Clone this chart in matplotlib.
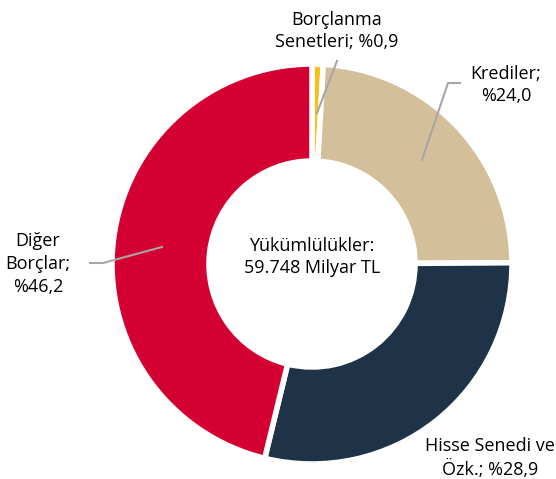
import matplotlib.pyplot as plt

plt.rcParams['font.family'] = ['Open Sans', 'DejaVu Sans']

# data
categories = ['Borçlanma\nSenetleri', 'Krediler', 'Hisse Senedi ve\nÖzk.', 'Diğer\nBorçlar']
shares = [0.9, 24.0, 28.9, 46.2]
share_labels = ['Borçlanma\nSenetleri; %0,9', 'Krediler;\n%24,0', 'Hisse Senedi ve\nÖzk.; %28,9', 'Diğer\nBorçlar;\n%46,2']
colors = ['#F5C116', '#D4BF9B', '#1E3248', '#D50032']
center_text = 'Yükümlülükler:\n59.748 Milyar TL'

W, H = 556, 479
fig = plt.figure(figsize=(W / 100, H / 100), dpi=100)
ax = fig.add_axes([0, 0, 1, 1])

cx, cy, r = 312, 264, 200
# y axis is flipped (pixel coords), so -90 points up and counterclock runs clockwise on screen
wedges, _ = ax.pie(shares, colors=colors, startangle=-90, counterclock=True,
                   center=(cx, cy), radius=r, frame=True,
                   wedgeprops=dict(width=r * 0.485, edgecolor='white', linewidth=4))
ax.set_xlim(0, W)
ax.set_ylim(H, 0)
ax.set_aspect('equal')
ax.axis('off')

fs = 13
ax.text(cx, cy - 7, center_text, ha='center', va='center', fontsize=fs, linespacing=1.35)

# leader lines
line_kw = dict(color='#A6A6A6', lw=1.5)
ax.plot([337, 317], [61, 113], **line_kw)
ax.plot([460, 448, 422], [83, 83, 160], **line_kw)
ax.plot([90, 103, 162], [263, 263, 247], **line_kw)

ax.text(337, 31, share_labels[0], ha='center', va='center', fontsize=fs, linespacing=1.35)
ax.text(506, 85, share_labels[1], ha='center', va='center', fontsize=fs, linespacing=1.35)
ax.text(490, 458, share_labels[2], ha='center', va='center', fontsize=fs, linespacing=1.35)
ax.text(38, 264, share_labels[3], ha='center', va='center', fontsize=fs, linespacing=1.35)

fig.savefig('out.png', dpi=100)
